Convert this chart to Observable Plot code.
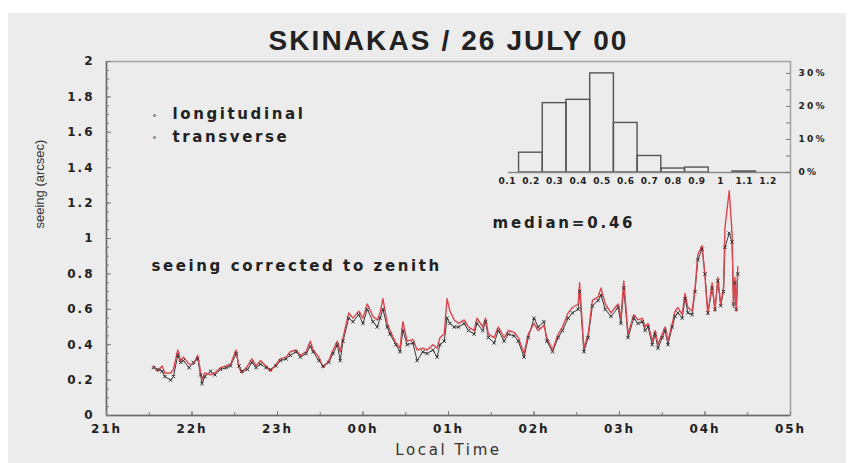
<!DOCTYPE html>
<html>
<head>
<meta charset="utf-8">
<script src="https://cdn.jsdelivr.net/npm/d3@7"></script>
<script src="https://cdn.jsdelivr.net/npm/@observablehq/plot@0.6"></script>
<style>
html, body { margin: 0; padding: 0; background: #fff; }
#wrap { position: relative; width: 851px; height: 463px; overflow: hidden; background: #fff; }
#panel { position: absolute; left: 8px; top: 13px; width: 838px; height: 450px; background: #ececec; }
#wrap svg { position: absolute; left: 0; top: 0; }
g[aria-label="y-axis tick label"], g[aria-label="x-axis tick label"] { letter-spacing: 2px; }
#hist g[aria-label="x-axis tick label"] { letter-spacing: 0.5px; }
#hist g[aria-label="y-axis tick label"] { letter-spacing: 2.2px; }
</style>
</head>
<body>
<div id="wrap"><div id="panel"></div></div>
<script>
// ---- time series: minutes after 21:00 local time ----
const times = [
  33,36,39,41,45,47,50,52,54,58,
  61,64,66,67,69,73,76,80,84,87,
  91,93,95,99,102,105,108,112,115,119,
  122,126,129,133,136,140,143,145,149,152,
  156,159,162,164,166,170,173,177,180,183,
  187,190,192,194,197,199,203,206,208,211,
  215,218,222,225,229,232,234,237,239,241,
  244,247,251,254,258,260,264,266,268,272,
  275,279,282,286,289,293,296,300,303,307,
  309,313,317,320,324,327,331,332,335,338,
  341,345,347,350,354,359,361,363,366,370,
  373,376,378,380,383,385,387,390,392,394,
  397,399,401,404,406,408,411,413,415,418,
  420,422,425,427,429,431,433,434,437,439,
  440,441,442,443
];
const transverse = [
  .28,.25,.28,.24,.24,.26,.37,.31,.33,.29,
  .29,.34,.25,.20,.24,.23,.24,.27,.28,.29,
  .37,.27,.24,.28,.32,.28,.31,.28,.25,.29,
  .32,.33,.36,.37,.34,.36,.42,.37,.33,.27,
  .31,.37,.42,.36,.44,.58,.55,.59,.55,.63,
  .56,.54,.58,.66,.52,.48,.41,.38,.53,.42,
  .43,.37,.38,.37,.40,.38,.44,.46,.66,.59,
  .54,.52,.54,.50,.48,.55,.50,.55,.46,.44,
  .50,.44,.48,.47,.44,.35,.46,.52,.48,.51,
  .44,.37,.46,.50,.58,.61,.63,.75,.38,.46,
  .65,.67,.72,.63,.58,.63,.55,.76,.46,.57,
  .54,.55,.50,.52,.42,.48,.40,.46,.50,.42,
  .52,.59,.61,.57,.69,.61,.59,.72,.91,.96,
  .78,.57,.75,.59,.78,.63,.72,1.06,1.27,1.03,
  .61,.78,.59,.84
];
const longitudinal = [
  .27,.26,.25,.22,.20,.22,.34,.30,.31,.27,
  .30,.32,.23,.18,.22,.25,.23,.26,.27,.28,
  .35,.28,.25,.26,.30,.27,.29,.27,.26,.28,
  .31,.32,.34,.36,.33,.35,.39,.36,.31,.28,
  .30,.35,.40,.31,.42,.55,.53,.57,.52,.60,
  .53,.50,.55,.60,.50,.46,.40,.36,.48,.40,
  .41,.31,.36,.35,.37,.33,.40,.42,.55,.52,
  .50,.50,.52,.48,.46,.52,.48,.53,.44,.41,
  .48,.42,.46,.45,.42,.33,.44,.55,.50,.53,
  .42,.36,.44,.48,.55,.58,.60,.70,.36,.44,
  .62,.65,.68,.60,.56,.61,.52,.72,.44,.55,
  .52,.53,.48,.50,.40,.46,.38,.44,.48,.40,
  .50,.56,.58,.55,.66,.58,.57,.70,.88,.94,
  .80,.58,.72,.60,.76,.62,.70,.95,1.03,.98,
  .63,.75,.60,.80
];
const seriesNames = ["longitudinal", "transverse"];

// ---- axes ----
const xTickValues = [0, 60, 120, 180, 240, 300, 360, 420, 480];
const xTickLabels = ["21h", "22h", "23h", "00h", "01h", "02h", "03h", "04h", "05h"];
const xMinorTicks = [0, 30, 60, 90, 120, 150, 180, 210, 240, 270, 300, 330, 360, 390, 420, 450, 480];
const yTickValues = [0, 0.2, 0.4, 0.6, 0.8, 1, 1.2, 1.4, 1.6, 1.8, 2];
const yTickLabels = ["0", "0.2", "0.4", "0.6", "0.8", "1", "1.2", "1.4", "1.6", "1.8", "2"];
const yMinorTicks = [0,0.05,0.1,0.15,0.2,0.25,0.3,0.35,0.4,0.45,0.5,0.55,0.6,0.65,0.7,0.75,0.8,0.85,0.9,0.95,1,
  1.05,1.1,1.15,1.2,1.25,1.3,1.35,1.4,1.45,1.5,1.55,1.6,1.65,1.7,1.75,1.8,1.85,1.9,1.95,2];

// ---- inset histogram ----
const histBinCenters = [0.2, 0.3, 0.4, 0.5, 0.6, 0.7, 0.8, 0.9, 1.0, 1.1];
const histPercent = [6, 21, 22, 30, 15, 5, 1.2, 1.5, 0, 0.3];
const histTickValues = [0.1, 0.2, 0.3, 0.4, 0.5, 0.6, 0.7, 0.8, 0.9, 1.0, 1.1, 1.2];
const histTickLabels = ["0.1", "0.2", "0.3", "0.4", "0.5", "0.6", "0.7", "0.8", "0.9", "1", "1.1", "1.2"];
const pctTickValues = [0, 10, 20, 30];
const pctTickLabels = ["0%", "10%", "20%", "30%"];
const pctMinorTicks = [0, 5, 10, 15, 20, 25, 30];

// ---- texts ----
const titleText = "SKINAKAS / 26 JULY 00";
const yLabel = "seeing (arcsec)";
const xLabel = "Local Time";
const noteText = "seeing corrected to zenith";
const medianText = "median=0.46";

const longData = times.map((t, i) => ({t, v: longitudinal[i]}));
const transData = times.map((t, i) => ({t, v: transverse[i]}));
const histData = histBinCenters.map((c, i) => ({c, p: histPercent[i]}));

const textColor = "#222";
const frameW = 851 - 106 - 61;
const frameH = 463 - 61 - 48;

const main = Plot.plot({
  width: 851, height: 463,
  marginLeft: 106, marginRight: 61, marginTop: 61, marginBottom: 48,
  style: {background: "transparent", fontFamily: "DejaVu Sans", color: textColor},
  x: {domain: [0, 480]},
  y: {domain: [0, 2]},
  marks: [
    Plot.frame({stroke: "#a3a3a3", strokeWidth: 1.5}),
    Plot.ruleX([0], {stroke: "#6a6a6a", strokeWidth: 1.5}),
    Plot.ruleY([0], {stroke: "#6a6a6a", strokeWidth: 1.5}),
    Plot.tickY(yMinorTicks, {y: d => d, insetRight: frameW - 3, stroke: "#7a7a7a"}),
    Plot.tickY(yTickValues, {y: d => d, insetRight: frameW - 5, stroke: "#7a7a7a"}),
    Plot.tickX(xMinorTicks, {x: d => d, insetTop: frameH - 3, stroke: "#7a7a7a"}),
    Plot.tickX(xTickValues, {x: d => d, insetTop: frameH - 4, stroke: "#7a7a7a"}),
    Plot.axisY(yTickValues, {anchor: "left", tickSize: 0, tickPadding: 12, fontSize: 12, fontWeight: "bold",
      tickFormat: d => yTickLabels[yTickValues.indexOf(d)], label: null}),
    Plot.axisX(xTickValues, {anchor: "bottom", tickSize: 0, tickPadding: 9, fontSize: 12, fontWeight: "bold",
      tickFormat: d => xTickLabels[xTickValues.indexOf(d)], label: null}),
    Plot.line(longData, {x: "t", y: "v", stroke: "#3c3c3c", strokeWidth: 1}),
    Plot.line(transData, {x: "t", y: "v", stroke: "#dc4650", strokeWidth: 1.4}),
    Plot.dot(longData, {x: "t", y: "v", symbol: "times", r: 1.7, stroke: "#333", strokeWidth: 1}),
    // title
    Plot.text([titleText], {frameAnchor: "top", dy: -12, lineAnchor: "bottom", fontSize: 28, fontWeight: "bold",
      fontFamily: "Liberation Sans", fill: textColor}),
    // axis labels
    Plot.text([yLabel], {frameAnchor: "left", rotate: -90, dx: -67, dy: -10, fontSize: 13,
      fontFamily: "Liberation Sans", fill: "#333"}),
    Plot.text([xLabel], {frameAnchor: "bottom", dy: 35, lineAnchor: "middle", fontSize: 15, fill: "#333"}),
    // legend
    Plot.dot([seriesNames[0]], {frameAnchor: "top-left", dx: 48, dy: 54, r: 1.6, fill: "#8a8a8a", stroke: null}),
    Plot.dot([seriesNames[1]], {frameAnchor: "top-left", dx: 48, dy: 76, r: 1.6, fill: "#a08a8a", stroke: null}),
    Plot.text([seriesNames[0]], {frameAnchor: "top-left", dx: 66, dy: 53, lineAnchor: "middle", textAnchor: "start",
      fontSize: 15, fontWeight: "bold", fill: textColor}),
    Plot.text([seriesNames[1]], {frameAnchor: "top-left", dx: 66, dy: 76, lineAnchor: "middle", textAnchor: "start",
      fontSize: 15, fontWeight: "bold", fill: textColor}),
    // annotations
    Plot.text([noteText], {frameAnchor: "top-left", dx: 45, dy: 205, lineAnchor: "middle", textAnchor: "start",
      fontSize: 15, fontWeight: "bold", fill: textColor}),
    Plot.text([medianText], {frameAnchor: "top-left", dx: 386, dy: 162, lineAnchor: "middle", textAnchor: "start",
      fontSize: 15, fontWeight: "bold", fill: textColor})
  ]
});
main.id = "main";

// the reference lettering is horizontally stretched: widen it with letter spacing
const spacing = new Map([
  [titleText, "2.1px"], [xLabel, "2.6px"], [noteText, "2.6px"], [medianText, "2.8px"],
  [seriesNames[0], "2.6px"], [seriesNames[1], "2.6px"]
]);
main.querySelectorAll("text").forEach(el => {
  const s = spacing.get(el.textContent);
  if (s) el.style.letterSpacing = s;
});

const histFrameW = 851 - 483 - 61;
const hist = Plot.plot({
  width: 851, height: 463,
  marginLeft: 483, marginRight: 61, marginTop: 61, marginBottom: 291,
  style: {background: "transparent", fontFamily: "DejaVu Sans", color: textColor},
  x: {domain: [0, 1.295]},
  y: {domain: [0, 33.6]},
  marks: [
    Plot.rectY(histData, {x1: d => d.c - 0.05, x2: d => d.c + 0.05, y1: 0, y2: "p",
      fill: "none", stroke: "#555", strokeWidth: 1.4}),
    Plot.ruleY([0], {insetLeft: 25, stroke: "#888", strokeWidth: 1.5}),
    Plot.tickY(pctMinorTicks, {y: d => d, insetLeft: histFrameW - 4, stroke: "#7a7a7a"}),
    Plot.axisX(histTickValues, {anchor: "bottom", tickSize: 0, tickPadding: 5, fontSize: 9, fontWeight: "bold",
      tickFormat: d => histTickLabels[histTickValues.indexOf(d)], label: null}),
    Plot.axisY(pctTickValues, {anchor: "right", tickSize: 0, tickPadding: 8, fontSize: 9, fontWeight: "bold",
      tickFormat: d => pctTickLabels[pctTickValues.indexOf(d)], label: null})
  ]
});
hist.id = "hist";

const wrap = document.getElementById("wrap");
wrap.appendChild(main);
wrap.appendChild(hist);
</script>
</body>
</html>
